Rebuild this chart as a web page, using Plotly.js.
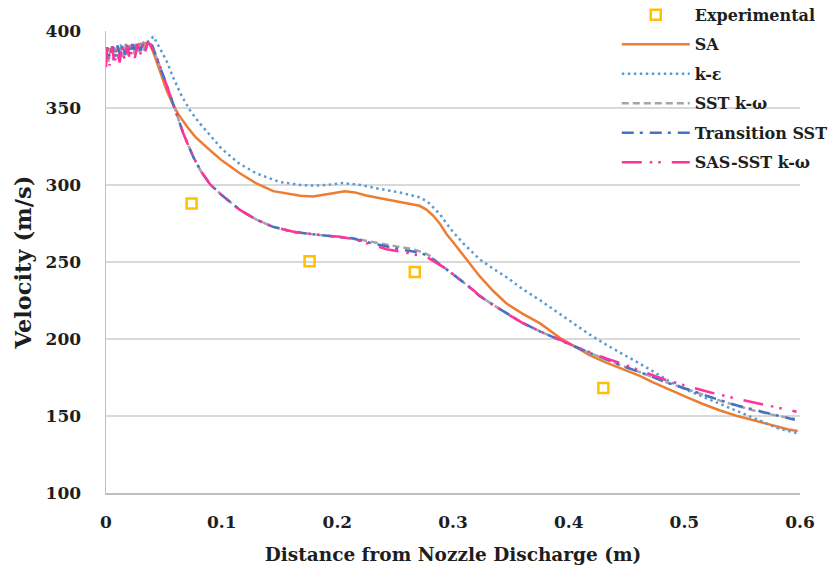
<!DOCTYPE html>
<html>
<head>
<meta charset="utf-8">
<script src="https://cdn.plot.ly/plotly-3.0.1.min.js"></script>
<style>
  html, body { margin: 0; padding: 0; background: #ffffff; }
  #chart { width: 833px; height: 578px; }
</style>
</head>
<body>
<div id="chart"></div>
<script>
// Centreline velocity downstream of the nozzle discharge: measurements and CFD turbulence models

const seriesNames = ['Experimental', 'SA', 'k-ε', 'SST k-ω', 'Transition SST', 'SAS-SST k-ω'];

// Experimental measurements
const expX = [0.074, 0.176, 0.267, 0.430];
const expY = [288, 250.5, 243.5, 168.2];

// Spalart-Allmaras
const saX = [0, 0.002, 0.004, 0.006, 0.008, 0.010, 0.012, 0.014, 0.016, 0.018, 0.020, 0.022, 0.024, 0.026, 0.028, 0.030, 0.032, 0.034, 0.037,
  0.040, 0.0438, 0.048, 0.0524, 0.058, 0.0625, 0.070, 0.077, 0.087, 0.100, 0.116, 0.130, 0.1446, 0.156, 0.168, 0.179, 0.190, 0.200, 0.2066,
  0.215, 0.225, 0.237, 0.250, 0.2656, 0.271, 0.277, 0.283, 0.289, 0.2945, 0.300, 0.309, 0.3175, 0.323, 0.335, 0.346, 0.360, 0.375, 0.392,
  0.404, 0.418, 0.433, 0.444, 0.4615, 0.473, 0.487, 0.502, 0.516, 0.531, 0.545, 0.560, 0.571, 0.5825, 0.590, 0.598];
const saY = [385, 388.5, 386, 389, 386.5, 389.5, 387, 390, 387.5, 390, 388, 390.5, 388.5, 391, 389, 391.5, 390, 392, 392,
  388, 380, 370.5, 361.5, 352, 346, 338, 331.4, 324.5, 316, 307.5, 301, 296, 294.3, 293, 292.6, 294, 295.5, 296,
  295.2, 293.2, 291.4, 289.6, 287.7, 286.5, 284, 280, 274.5, 268, 263, 254, 245.5, 240.8, 231, 223.2, 216.5, 210.3, 201,
  195.5, 189.5, 184.5, 181.4, 176, 171.8, 167, 162.2, 157.8, 153.6, 150.2, 147.2, 144.7, 142.3, 141.2, 140.3];

// k-epsilon
const keX = [0, 0.0025, 0.005, 0.0075, 0.010, 0.0125, 0.015, 0.0175, 0.020, 0.0225, 0.025, 0.0275, 0.030, 0.0325, 0.035, 0.038, 0.041,
  0.045, 0.0485, 0.0524, 0.058, 0.065, 0.0726, 0.080, 0.0885, 0.100, 0.115, 0.130, 0.150, 0.168, 0.179, 0.190, 0.205, 0.220, 0.237,
  0.255, 0.271, 0.2775, 0.2827, 0.2887, 0.2945, 0.300, 0.309, 0.3175, 0.323, 0.335, 0.346, 0.360, 0.375, 0.390, 0.404, 0.418, 0.433,
  0.444, 0.4615, 0.473, 0.487, 0.502, 0.516, 0.531, 0.545, 0.560, 0.570, 0.580, 0.590, 0.597];
const keY = [386, 389, 387, 390, 388, 390.5, 389, 391, 389.5, 391.5, 390, 392, 390.5, 392.5, 392, 394, 396.5,
  391, 386, 380.5, 370, 358.5, 348.5, 341, 333.6, 323.5, 314, 307.5, 302, 300, 299.6, 300, 301.3, 300, 297.4,
  295, 292, 289.5, 285.6, 281, 275, 269.5, 262, 256, 251.8, 245.5, 240.3, 232.5, 225.3, 217.5, 210.3, 203, 196,
  191.5, 184, 179, 172.5, 166.9, 162.5, 158.3, 153.5, 148.7, 145.5, 142.3, 140.2, 139];

// SST k-omega
const sstX = [0, 0.0019, 0.0041, 0.0063, 0.0085, 0.0107, 0.0129, 0.0151, 0.0173, 0.0195, 0.0217, 0.0239, 0.0261, 0.0283, 0.0305, 0.0327,
  0.0349, 0.0372, 0.040, 0.0425, 0.0452, 0.0495, 0.0553, 0.061, 0.0668, 0.0755, 0.082, 0.0899, 0.100, 0.1158, 0.130, 0.1446, 0.162, 0.185,
  0.200, 0.2135, 0.228, 0.2425, 0.256, 0.2656, 0.273, 0.279, 0.2857, 0.293, 0.300, 0.3116, 0.3175, 0.323, 0.335, 0.346, 0.360, 0.375,
  0.392, 0.404, 0.418, 0.433, 0.444, 0.4615, 0.473, 0.487, 0.502, 0.516, 0.531, 0.545, 0.560, 0.575, 0.5955];
const sstY = [387, 380, 388.5, 381, 389, 382, 389.5, 383, 390, 384, 390.5, 385, 391, 386, 391.5, 387.5, 392, 391.5, 390, 385, 380.5, 371,
  358.8, 346, 333.5, 318.2, 309, 300.5, 293.5, 283.8, 277.5, 272.8, 269.6, 267.5, 266.5, 265.5, 263.3, 261.2, 259.5, 258.2, 256.5,
  254.5, 250.5, 246, 242, 235.3, 231.8, 228, 222, 216.7, 210.5, 205, 199.5, 195.3, 191, 186.7, 183.2, 178.5, 175, 171.2, 167.5, 163.8,
  160, 156.7, 153.6, 151, 148];

// Transition SST
const trX = [0, 0.0012, 0.0034, 0.0056, 0.0078, 0.0100, 0.0122, 0.0144, 0.0166, 0.0188, 0.0210, 0.0232, 0.0254, 0.0276, 0.0298, 0.0320,
  0.0342, 0.0365, 0.040, 0.0425, 0.0452, 0.0495, 0.0553, 0.061, 0.0668, 0.0755, 0.082, 0.0899, 0.100, 0.1158, 0.130, 0.1446, 0.162, 0.185,
  0.200, 0.2135, 0.228, 0.2425, 0.256, 0.2656, 0.273, 0.279, 0.2857, 0.293, 0.300, 0.3116, 0.3175, 0.323, 0.335, 0.346, 0.360, 0.375,
  0.392, 0.404, 0.418, 0.433, 0.444, 0.4615, 0.473, 0.487, 0.502, 0.516, 0.531, 0.545, 0.560, 0.575, 0.5955];
const trY = [382, 389.5, 382.5, 390, 383, 390.5, 384, 391, 384.5, 391, 385.5, 391.5, 386, 392, 387, 392, 388.5, 392.5, 390.5, 385.5, 380.5, 371,
  358.8, 346, 333.5, 318.2, 309, 300.5, 293.5, 283.8, 277.5, 272.8, 269.6, 267.5, 266.5, 265.3, 262.5, 260, 258, 256.8, 255.5,
  253.8, 250.2, 246, 242, 235.3, 231.8, 228, 222, 216.7, 210.5, 205, 199.5, 195.3, 191, 186.7, 183.2, 178.5, 175, 171.2, 167.5, 163.8,
  160.2, 157, 154, 151.3, 147.6];

// SAS-SST k-omega
const sasX = [0, 0.0008, 0.0030, 0.0052, 0.0074, 0.0096, 0.0118, 0.0140, 0.0162, 0.0184, 0.0206, 0.0228, 0.0250, 0.0272, 0.0294, 0.0316,
  0.0338, 0.0360, 0.0385, 0.0425, 0.0452, 0.0495, 0.0553, 0.061, 0.0668, 0.0755, 0.082, 0.0899, 0.100, 0.1158, 0.130, 0.1446, 0.162, 0.185,
  0.200, 0.2135, 0.228, 0.2425, 0.256, 0.2656, 0.273, 0.279, 0.2857, 0.293, 0.300, 0.3116, 0.3175, 0.323, 0.335, 0.346, 0.360, 0.375,
  0.392, 0.404, 0.418, 0.433, 0.444, 0.4615, 0.4815, 0.502, 0.522, 0.545, 0.565, 0.591, 0.597];
const sasY = [376.5, 389, 377.5, 390, 378.5, 390, 379.5, 390.5, 380.5, 391, 381.5, 391, 382.5, 391.5, 384, 392, 386, 392.5, 391, 385, 380.5, 371,
  358.8, 346, 333.5, 318.2, 309, 300.5, 293.5, 283.8, 277.5, 272.8, 269.6, 267.5, 266.5, 265, 261.5, 258.3, 256.5, 255.3, 254,
  252.5, 249.5, 246, 242, 235.3, 231.8, 228, 222, 216.7, 210.5, 205, 199.8, 195.6, 191.5, 187.2, 184.6, 179.5, 174, 169.5, 165.4,
  161.3, 157.9, 153.6, 152.8];

const colors = ['#FFC000', '#ED7D31', '#5B9BD5', '#A5A5A5', '#4472C4', '#FF3399'];
const textColor = '#1e1e1e';
const serif = 'DejaVu Serif';

// one legend group per trace so tracegroupgap sets the row pitch
const traces = [
  { x: expX, y: expY, name: seriesNames[0], legendgroup: 'g0', mode: 'markers', type: 'scatter',
    marker: { symbol: 'square-open', size: 10, color: colors[0], line: { width: 2.5, color: colors[0] } } },
  { x: saX, y: saY, name: seriesNames[1], legendgroup: 'g1', mode: 'lines', type: 'scatter',
    line: { color: colors[1], width: 2.5 } },
  { x: keX, y: keY, name: seriesNames[2], legendgroup: 'g2', mode: 'lines', type: 'scatter',
    line: { color: colors[2], width: 2.5, dash: '2.5px,3.5px' } },
  { x: sstX, y: sstY, name: seriesNames[3], legendgroup: 'g3', mode: 'lines', type: 'scatter',
    line: { color: colors[3], width: 2.5, dash: '7px,4px' } },
  { x: trX, y: trY, name: seriesNames[4], legendgroup: 'g4', mode: 'lines', type: 'scatter',
    line: { color: colors[4], width: 2.5, dash: '12px,6px,3px,7px' } },
  { x: sasX, y: sasY, name: seriesNames[5], legendgroup: 'g5', mode: 'lines', type: 'scatter',
    line: { color: colors[5], width: 2.5, dash: '20px,8px,2.5px,6px,2.5px,11px' } }
];

const layout = {
  width: 833,
  height: 578,
  margin: { l: 106, r: 33, t: 31, b: 85, autoexpand: false },
  paper_bgcolor: '#ffffff',
  plot_bgcolor: '#ffffff',
  font: { family: serif, size: 17, color: textColor, weight: 700 },
  showlegend: true,
  legend: {
    x: 0.736, xanchor: 'left',
    y: 1.072, yanchor: 'top',
    bgcolor: 'rgba(0,0,0,0)',
    itemwidth: 68,
    tracegroupgap: 5.7,
    font: { family: serif, size: 16, color: textColor, weight: 700 }
  },
  xaxis: {
    range: [0, 0.6],
    dtick: 0.1,
    tick0: 0,
    showgrid: false,
    zeroline: false,
    showline: true,
    linecolor: '#BFBFBF',
    linewidth: 1.5,
    ticks: '',
    ticklabelstandoff: 13,
    tickfont: { family: serif, size: 17, color: textColor, weight: 700 },
    title: { text: 'Distance from Nozzle Discharge (m)', standoff: 17,
      font: { family: serif, size: 18.5, color: textColor, weight: 700 } }
  },
  yaxis: {
    range: [100, 400],
    dtick: 50,
    tick0: 100,
    showgrid: true,
    gridcolor: '#D9D9D9',
    gridwidth: 1.5,
    zeroline: false,
    showline: true,
    linecolor: '#BFBFBF',
    linewidth: 1.5,
    ticks: '',
    ticklabelstandoff: 20,
    tickfont: { family: serif, size: 17, color: textColor, weight: 700 },
    title: { text: 'Velocity (m/s)', standoff: 7,
      font: { family: serif, size: 22.5, color: textColor, weight: 700 } }
  }
};

Plotly.newPlot('chart', traces, layout, { displayModeBar: false, staticPlot: true });
</script>
</body>
</html>
